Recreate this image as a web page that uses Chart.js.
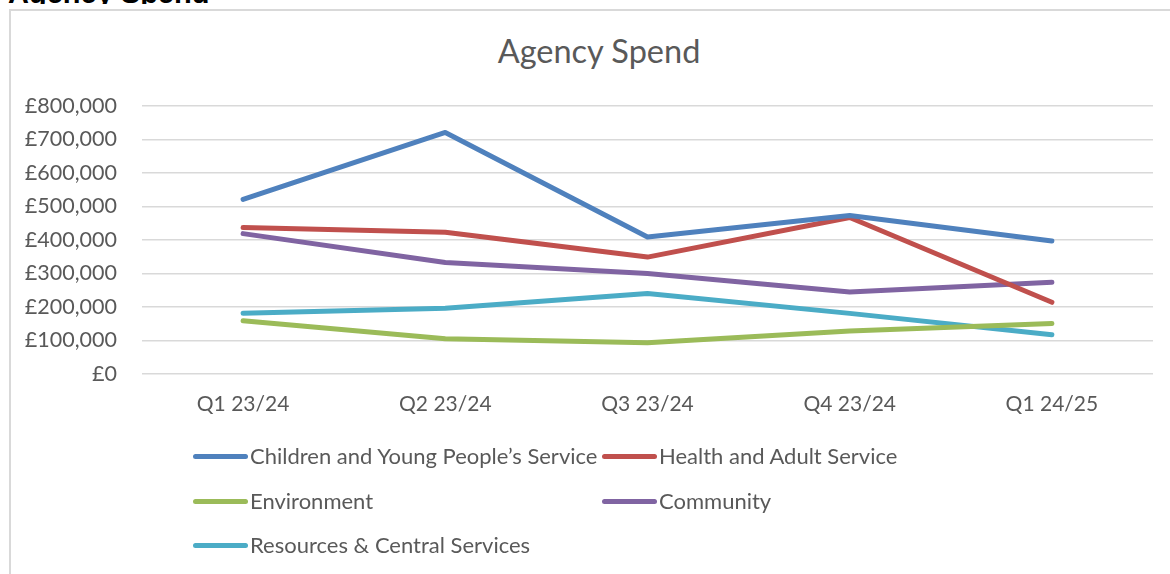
<!DOCTYPE html>
<html>
<head>
<meta charset="utf-8">
<script src="https://cdn.jsdelivr.net/npm/chart.js@4.4.1/dist/chart.umd.min.js"></script>
<style>
  html, body { margin: 0; padding: 0; background: #fff; }
  body { width: 1170px; height: 574px; position: relative; overflow: hidden; font-family: Lato, sans-serif; }
  #heading {
    position: absolute; left: 0; top: 0; width: 300px; height: 4px; overflow: hidden;
  }
  #heading span {
    position: absolute; left: 8px; top: -21px; font: bold 29px/1 "Liberation Sans", Arial, sans-serif; color: #000; white-space: nowrap;
  }
  #frame {
    position: absolute; left: 9px; top: 9px; width: 1300px; height: 700px;
    border-left: 2px solid #d9d9d9; border-top: 2px solid #d9d9d9; background: #fff;
  }
  #wrap { position: absolute; left: 9px; top: 9px; width: 1180px; height: 565px; }
  #title {
    position: absolute; left: 599px; top: 35px; transform: translateX(-50%);
    font: 32.5px/1 Lato, sans-serif; color: #595959; white-space: nowrap;
  }
  .leg { position: absolute; height: 24px; display: flex; align-items: center; white-space: nowrap;
         font: 22px/1 Lato, sans-serif; color: #595959; }
  .leg i { display: inline-block; width: 55px; height: 5px; border-radius: 3px; margin-right: 2px; }
</style>
</head>
<body>
<div id="heading"><span>Agency Spend</span></div>
<div id="frame"></div>
<div id="title">Agency Spend</div>
<div id="wrap"><canvas id="c" width="1180" height="565"></canvas></div>
<div id="legend"></div>
<script>
// Quarterly agency spend by directorate (£)
const quarters = ['Q1 23/24', 'Q2 23/24', 'Q3 23/24', 'Q4 23/24', 'Q1 24/25'];
const childrenYoungPeople = [521000, 721000, 409000, 473000, 397000];
const healthAdult = [437000, 423000, 349000, 467000, 214000];
const environment = [159000, 105000, 93000, 128000, 151000];
const community = [419000, 333000, 300000, 245000, 274000];
const resourcesCentral = [181000, 196000, 240000, 181000, 117000];
const yTicks = [0, 100000, 200000, 300000, 400000, 500000, 600000, 700000, 800000];

const seriesNames = [
  'Children and Young People\u2019s Service',
  'Health and Adult Service',
  'Environment',
  'Community',
  'Resources & Central Services'
];
const seriesData = [childrenYoungPeople, healthAdult, environment, community, resourcesCentral];
const seriesColors = ['#4f81bd', '#c0504d', '#9bbb59', '#8064a2', '#4bacc6'];

const gbp = v => '\u00a3' + Number(v).toLocaleString('en-GB');

const datasets = seriesNames.map((name, i) => ({
  label: name,
  data: seriesData[i],
  borderColor: seriesColors[i],
  backgroundColor: seriesColors[i],
  borderWidth: 5,
  borderCapStyle: 'round',
  borderJoinStyle: 'round',
  pointRadius: 0,
  pointHoverRadius: 0,
  tension: 0,
  fill: false
}));

new Chart(document.getElementById('c'), {
  type: 'line',
  data: { labels: quarters, datasets },
  options: {
    responsive: false,
    animation: false,
    events: [],
    layout: { padding: { left: 0, right: 36, top: 97, bottom: 150 } },
    plugins: { legend: { display: false }, title: { display: false }, tooltip: { enabled: false } },
    scales: {
      x: {
        offset: true,
        grid: { display: false, drawTicks: false },
        border: { display: false },
        ticks: { color: '#595959', font: { family: 'Lato', size: 21 }, padding: 18, maxRotation: 0, autoSkip: false },
        afterFit: s => { s.height = 50; }
      },
      y: {
        min: 0,
        max: 800000,
        afterBuildTicks: s => { s.ticks = yTicks.map(v => ({ value: v })); },
        grid: { color: '#d9d9d9', lineWidth: 1.5, drawTicks: false },
        border: { display: false },
        ticks: { color: '#595959', font: { family: 'Lato', size: 21.5 }, padding: 25, callback: v => gbp(v) },
        afterFit: s => { s.width = 133; }
      }
    }
  }
});

// Legend laid out in two columns, as in the original report
const legendPos = [
  { x: 193, y: 456 }, { x: 602, y: 456 },
  { x: 193, y: 501 }, { x: 602, y: 501 },
  { x: 193, y: 545 }
];
const legend = document.getElementById('legend');
seriesNames.forEach((name, i) => {
  const el = document.createElement('div');
  el.className = 'leg';
  el.style.left = legendPos[i].x + 'px';
  el.style.top = (legendPos[i].y - 12) + 'px';
  const sw = document.createElement('i');
  sw.style.background = seriesColors[i];
  el.appendChild(sw);
  el.appendChild(document.createTextNode(name));
  legend.appendChild(el);
});
</script>
</body>
</html>
